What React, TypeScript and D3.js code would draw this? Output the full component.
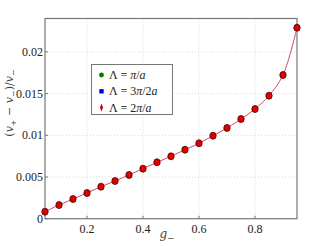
import { useEffect, useRef } from 'react'
import * as d3 from 'd3'

// g_- sample points and (v+ - v-)/v- values
const gValues = [0.05, 0.1, 0.15, 0.2, 0.25, 0.3, 0.35, 0.4, 0.45, 0.5, 0.55, 0.6, 0.65, 0.7, 0.75, 0.8, 0.85, 0.9, 0.95]
const dvValues = [0.00084, 0.00164, 0.00236, 0.00308, 0.00384, 0.00452, 0.00524, 0.006, 0.00676, 0.00748, 0.00827, 0.00904, 0.00995, 0.01088, 0.01195, 0.01315, 0.01475, 0.01723, 0.0229]
const xTicks = [0.2, 0.4, 0.6, 0.8]
const yTicks = [0, 0.005, 0.01, 0.015, 0.02]
const yTickLabels = ['0', '0.005', '0.01', '0.015', '0.02']
const legendLabels = [
  { num: '', den: 'a', color: '#007a00', shape: 'circle' },
  { num: '3', den: '2a', color: '#0000e0', shape: 'square' },
  { num: '2', den: 'a', color: '#e00000', shape: 'diamond' },
]

export default function App() {
  const svgRef = useRef<SVGSVGElement>(null)
  const width = 328
  const height = 246

  useEffect(() => {
    if (!svgRef.current) return
    const svg = d3.select(svgRef.current)
    svg.selectAll('*').remove()

    const left = 45, right = 297, top = 18.5, bottom = 218.7
    const font = "'DejaVu Serif', 'Liberation Serif', serif"
    const tickFont = "'Liberation Serif', 'DejaVu Serif', serif"

    const x = d3.scaleLinear().domain([0.05, 0.95]).range([left, right])
    const y = d3.scaleLinear().domain([0, 0.024]).range([bottom, top])

    svg.append('rect').attr('width', width).attr('height', height).attr('fill', 'white')

    // grid
    const grid = svg.append('g')
      .attr('stroke', '#cfcfcf').attr('stroke-width', 0.8).attr('stroke-dasharray', '1,2')
    grid.selectAll('.gx').data(xTicks).enter().append('line')
      .attr('x1', d => x(d)).attr('x2', d => x(d)).attr('y1', top).attr('y2', bottom)
    grid.selectAll('.gy').data(yTicks.slice(1)).enter().append('line')
      .attr('x1', left).attr('x2', right).attr('y1', d => y(d)).attr('y2', d => y(d))

    // frame
    svg.append('rect')
      .attr('x', left).attr('y', top)
      .attr('width', right - left).attr('height', bottom - top)
      .attr('fill', 'none').attr('stroke', '#777').attr('stroke-width', 1.2)

    // ticks
    const ticks = svg.append('g').attr('stroke', '#777').attr('stroke-width', 1)
    ticks.selectAll('.tx').data(xTicks).enter().append('line')
      .attr('x1', d => x(d)).attr('x2', d => x(d)).attr('y1', bottom).attr('y2', bottom - 3)
    ticks.selectAll('.ty').data(yTicks).enter().append('line')
      .attr('x1', left).attr('x2', left + 3).attr('y1', d => y(d)).attr('y2', d => y(d))

    svg.append('g').selectAll('text').data(xTicks).enter().append('text')
      .attr('x', d => x(d)).attr('y', bottom + 14)
      .attr('text-anchor', 'middle')
      .attr('font-family', tickFont).attr('font-size', 12).attr('fill', '#222')
      .text(d => d.toString())

    svg.append('g').selectAll('text').data(yTicks).enter().append('text')
      .attr('x', left - 2).attr('y', d => y(d) + 4)
      .attr('text-anchor', 'end')
      .attr('font-family', tickFont).attr('font-size', 12).attr('fill', '#222')
      .text((d, i) => yTickLabels[i])

    // axis labels
    const xl = svg.append('text')
      .attr('x', 167).attr('y', 238).attr('text-anchor', 'middle')
      .attr('font-family', font).attr('font-size', 12).attr('fill', '#444')
    xl.append('tspan').attr('font-style', 'italic').text('g')
    xl.append('tspan').attr('dy', 3).attr('font-size', 9).text('−')

    const yl = svg.append('text')
      .attr('transform', 'translate(13, 103) rotate(-90)')
      .attr('text-anchor', 'middle')
      .attr('font-family', font).attr('font-size', 11).attr('fill', '#444')
    yl.append('tspan').text('(')
    yl.append('tspan').attr('font-style', 'italic').text('v')
    yl.append('tspan').attr('dy', 3).attr('font-size', 8).text('+')
    yl.append('tspan').attr('dy', -3).text(' − ')
    yl.append('tspan').attr('font-style', 'italic').text('v')
    yl.append('tspan').attr('dy', 3).attr('font-size', 8).text('−')
    yl.append('tspan').attr('dy', -3).text(')/')
    yl.append('tspan').attr('font-style', 'italic').text('v')
    yl.append('tspan').attr('dy', 3).attr('font-size', 8).text('−')

    // curve
    const data = gValues.map((g, i) => [g, dvValues[i]] as [number, number])
    const line = d3.line<[number, number]>()
      .x(d => x(d[0])).y(d => y(d[1]))
      .curve(d3.curveCatmullRom.alpha(0.5))
    svg.append('path')
      .attr('d', line(data))
      .attr('fill', 'none').attr('stroke', '#d04a6a').attr('stroke-width', 1)

    // markers
    svg.append('g').selectAll('ellipse').data(data).enter().append('ellipse')
      .attr('cx', d => x(d[0])).attr('cy', d => y(d[1]))
      .attr('rx', 3.2).attr('ry', 3.5)
      .attr('fill', '#e00000').attr('stroke', '#400').attr('stroke-width', 0.8)

    // legend
    const lg = svg.append('g')
    lg.append('rect')
      .attr('x', 91.5).attr('y', 64.5).attr('width', 81).attr('height', 50)
      .attr('fill', 'white').attr('stroke', '#777').attr('stroke-width', 1)
    legendLabels.forEach((item, i) => {
      const cy = 75 + i * 16.3
      const mx = 101.5
      if (item.shape === 'circle') {
        lg.append('circle').attr('cx', mx).attr('cy', cy).attr('r', 2.4).attr('fill', item.color)
      } else if (item.shape === 'square') {
        lg.append('rect').attr('x', mx - 2.2).attr('y', cy - 2.2).attr('width', 4.4).attr('height', 4.4).attr('fill', item.color)
      } else {
        lg.append('path').attr('d', d3.symbol().type(d3.symbolDiamond).size(14)()).attr('transform', `translate(${mx},${cy}) scale(0.8,1.15)`).attr('fill', item.color)
      }
      const t = lg.append('text').attr('x', 109).attr('y', cy + 4)
        .attr('font-family', tickFont).attr('font-size', 12).attr('fill', '#222')
      t.append('tspan').text('Λ = ' + item.num)
      t.append('tspan').attr('font-style', 'italic').text('π')
      t.append('tspan').text('/' + item.den.slice(0, -1))
      t.append('tspan').attr('font-style', 'italic').text('a')
    })
  }, [])

  return (
    <svg ref={svgRef} width={width} height={height}
      style={{ position: 'absolute', left: 0, top: 0 }} />
  )
}
